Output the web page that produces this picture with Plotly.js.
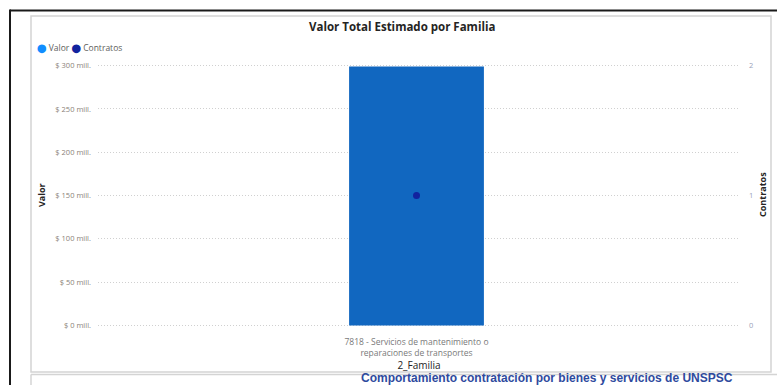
<!DOCTYPE html>
<html>
<head>
<meta charset="utf-8">
<script src="https://cdn.plot.ly/plotly-3.0.1.min.js"></script>
<style>
  html, body { margin: 0; padding: 0; background: #ffffff; }
  #chart { width: 777px; height: 385px; }
</style>
</head>
<body>
<div id="chart"></div>
<script>
// ---- data ----
const categories = ['7818 - Servicios de mantenimiento o reparaciones de transportes'];
const categoryTickLabels = ['7818 - Servicios de mantenimiento o<br>reparaciones de transportes'];
const valorMill = [299];        // Valor, millions of pesos
const contratos = [1];          // number of contracts
const valorTickVals = [0, 50, 100, 150, 200, 250, 300];
const valorTickLabels = ['$ 0 mill.', '$ 50 mill.', '$ 100 mill.', '$ 150 mill.', '$ 200 mill.', '$ 250 mill.', '$ 300 mill.'];
const contratosTickVals = [0, 1, 2];
const contratosTickLabels = ['0', '1', '2'];

// ---- layout geometry (pixels) ----
const W = 777, H = 385;
const L = 98, R = 740;
const Y0PX = 325, YTOPPX = 66;           // pixel rows of value 0 and value 300
const PAD = 3;                           // extra value units above/below so edge gridlines show
const perUnit = (Y0PX - YTOPPX) / 300;
const T = YTOPPX - PAD * perUnit, B = Y0PX + PAD * perUnit;
const px = v => (v - L) / (R - L);
const py = v => (B - v) / (B - T);

const FONT = 'Open Sans, Liberation Sans, DejaVu Sans, sans-serif';
const xShift = 0.5 - (416.5 - L) / (R - L);

const traces = [
  {
    type: 'bar',
    name: 'Valor',
    x: categories,
    y: valorMill,
    width: 0.21,
    marker: { color: '#1167C0' },
    yaxis: 'y',
    showlegend: false,
    hoverinfo: 'skip'
  },
  {
    type: 'scatter',
    mode: 'markers',
    name: 'Contratos',
    x: categories,
    y: contratos,
    marker: { color: '#12239E', size: 7 },
    yaxis: 'y2',
    showlegend: false,
    hoverinfo: 'skip'
  }
];

const layout = {
  width: W, height: H,
  margin: { l: L, r: W - R, t: T, b: H - B, pad: 0 },
  paper_bgcolor: '#ffffff',
  plot_bgcolor: '#ffffff',
  font: { family: FONT, color: '#605E5C', size: 8 },
  showlegend: false,
  xaxis: {
    type: 'category',
    range: [-0.5 + xShift, 0.5 + xShift],
    tickvals: categories,
    ticktext: categoryTickLabels,
    tickfont: { size: 8.5, color: '#7a7a7a', family: FONT },
    showgrid: false, zeroline: false, showline: false, ticks: '',
    ticklabelstandoff: 7,
    title: { text: '2_Familia', font: { size: 10, color: '#252423', family: FONT }, standoff: 1 },
    fixedrange: true
  },
  yaxis: {
    range: [-PAD, 300 + PAD],
    tickmode: 'array',
    tickvals: valorTickVals,
    ticktext: valorTickLabels,
    tickfont: { size: 7.5, color: '#8a7f78', family: FONT },
    showgrid: true, gridcolor: '#d0d0d0', griddash: '1px,2px', gridwidth: 1,
    zeroline: false, showline: false, ticks: '',
    ticklabelstandoff: 6,
    automargin: false,
    title: { text: '' },
    fixedrange: true
  },
  yaxis2: {
    overlaying: 'y', side: 'right',
    range: [-PAD / 150, 2 + PAD / 150],
    tickmode: 'array',
    tickvals: contratosTickVals,
    ticktext: contratosTickLabels,
    tickfont: { size: 7.5, color: '#9a9fb8', family: FONT },
    showgrid: false, zeroline: false, showline: false, ticks: '',
    ticklabelstandoff: 8,
    automargin: false,
    title: { text: '' },
    fixedrange: true
  },
  annotations: [
    { text: '<b>Valor Total Estimado por Familia</b>', xref: 'paper', yref: 'paper',
      x: px(402), y: py(27), xanchor: 'center', yanchor: 'middle', showarrow: false,
      font: { size: 11.5, color: '#252423', family: FONT } },
    { text: '<span style="color:#118DFF;font-family:DejaVu Sans">⬤</span> Valor <span style="color:#12239E;font-family:DejaVu Sans">⬤</span> Contratos',
      xref: 'paper', yref: 'paper', x: px(35), y: py(48), xanchor: 'left', yanchor: 'middle',
      showarrow: false, font: { size: 8.5, color: '#605E5C', family: FONT } },
    { text: '<b>Valor</b>', xref: 'paper', yref: 'paper', x: px(42), y: py(195),
      xanchor: 'center', yanchor: 'middle', textangle: -90, showarrow: false,
      font: { size: 9, color: '#252423', family: FONT } },
    { text: '<b>Contratos</b>', xref: 'paper', yref: 'paper', x: px(763), y: py(195),
      xanchor: 'center', yanchor: 'middle', textangle: -90, showarrow: false,
      font: { size: 9, color: '#252423', family: FONT } },
    { text: '<b>Comportamiento contratación por bienes y servicios de UNSPSC</b>',
      xref: 'paper', yref: 'paper', x: px(547), y: py(377.5), xanchor: 'center', yanchor: 'middle',
      showarrow: false, font: { size: 12, color: '#2E4A9E', family: 'Liberation Sans, Arial, sans-serif' } }
  ],
  shapes: [
    // outer black frame (top and left)
    { type: 'line', xref: 'paper', yref: 'paper', x0: px(10), x1: px(777), y0: py(11), y1: py(11),
      line: { color: '#1a1a1a', width: 2 } },
    { type: 'line', xref: 'paper', yref: 'paper', x0: px(10), x1: px(10), y0: py(10), y1: py(385),
      line: { color: '#1a1a1a', width: 2 } },
    // visual panel border
    { type: 'rect', xref: 'paper', yref: 'paper', x0: px(31), x1: px(771), y0: py(16.5), y1: py(371.5),
      line: { color: '#d4d4d4', width: 1.5 } },
    // next panel (cut off)
    { type: 'line', xref: 'paper', yref: 'paper', x0: px(31), x1: px(777), y0: py(374), y1: py(374),
      line: { color: '#d4d4d4', width: 1.5 } },
    { type: 'line', xref: 'paper', yref: 'paper', x0: px(31), x1: px(31), y0: py(374), y1: py(385),
      line: { color: '#d4d4d4', width: 1.5 } }
  ]
};

Plotly.newPlot('chart', traces, layout, { displayModeBar: false, staticPlot: true });
</script>
</body>
</html>
